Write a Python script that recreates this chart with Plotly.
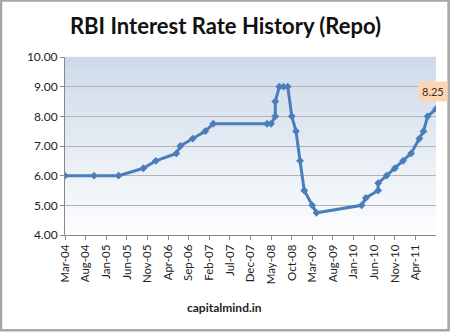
import plotly.graph_objects as go

# RBI repo rate by month of change
dates = [
    "2004-03-01", "2004-10-01", "2005-04-01", "2005-10-01", "2006-01-01",
    "2006-06-01", "2006-07-01", "2006-10-01", "2007-01-01", "2007-03-01",
    "2008-04-01", "2008-05-01", "2008-06-01", "2008-06-01", "2008-07-01",
    "2008-08-01", "2008-09-01", "2008-10-01", "2008-11-01", "2008-12-01",
    "2009-01-01", "2009-03-01", "2009-04-01", "2010-03-01", "2010-04-01",
    "2010-07-01", "2010-07-01", "2010-09-01", "2010-11-01", "2011-01-01",
    "2011-03-01", "2011-05-01", "2011-06-01", "2011-07-01", "2011-09-01",
]
repo_rate = [
    6.00, 6.00, 6.00, 6.25, 6.50,
    6.75, 7.00, 7.25, 7.50, 7.75,
    7.75, 7.75, 8.00, 8.50, 9.00,
    9.00, 9.00, 8.00, 7.50, 6.50,
    5.50, 5.00, 4.75, 5.00, 5.25,
    5.50, 5.75, 6.00, 6.25, 6.50,
    6.75, 7.25, 7.50, 8.00, 8.25,
]
# x-axis ticks every five months
tick_dates = [
    "2004-03-01", "2004-08-01", "2005-01-01", "2005-06-01", "2005-11-01",
    "2006-04-01", "2006-09-01", "2007-02-01", "2007-07-01", "2007-12-01",
    "2008-05-01", "2008-10-01", "2009-03-01", "2009-08-01", "2010-01-01",
    "2010-06-01", "2010-11-01", "2011-04-01",
]
tick_labels = [
    "Mar-04", "Aug-04", "Jan-05", "Jun-05", "Nov-05",
    "Apr-06", "Sep-06", "Feb-07", "Jul-07", "Dec-07",
    "May-08", "Oct-08", "Mar-09", "Aug-09", "Jan-10",
    "Jun-10", "Nov-10", "Apr-11",
]
y_range = [4, 10]
title_text = "RBI Interest Rate History (Repo)"
source_text = "capitalmind.in"

FONT = "Lato"
LINE_BLUE = "#4a7ebb"

fig = go.Figure()
fig.add_trace(go.Scatter(
    x=dates, y=repo_rate, mode="lines+markers",
    line=dict(color=LINE_BLUE, width=3),
    marker=dict(symbol="diamond", size=6, color=LINE_BLUE),
    showlegend=False, hoverinfo="x+y",
))

# vertical gradient behind the plot area
top_rgb = (0xcd, 0xd9, 0xe9)
bot_rgb = (0xfc, 0xfd, 0xfe)
n_bands = 60
shapes = []
for i in range(n_bands):
    t = i / (n_bands - 1)
    c = tuple(round(b + (a - b) * t) for a, b in zip(top_rgb, bot_rgb))
    shapes.append(dict(
        type="rect", xref="x domain", yref="y domain",
        x0=0, x1=1, y0=i / n_bands, y1=(i + 1) / n_bands + 0.002,
        fillcolor="rgb(%d,%d,%d)" % c, line=dict(width=0), layer="below",
    ))
# outer frame of the chart
shapes.append(dict(
    type="rect", xref="paper", yref="paper",
    x0=-0.1725, x1=1.034, y0=-0.535, y1=1.317,
    line=dict(color="#a6a6a6", width=2.5), fillcolor="rgba(0,0,0,0)",
    layer="above",
))

fig.update_layout(
    width=451, height=333,
    margin=dict(l=65, r=15, t=57, b=98),
    paper_bgcolor="white", plot_bgcolor="white",
    font=dict(family=FONT, color="#222"),
    title=dict(
        text="<b>%s</b>" % title_text, x=0.5, xanchor="center",
        xref="container", y=1 - 26 / 333, yref="container", yanchor="middle",
        font=dict(family=FONT, size=22, color="#111"),
    ),
    shapes=shapes,
    annotations=[
        dict(
            x=dates[-1], y=repo_rate[-1], xref="x", yref="y",
            text="%.2f" % repo_rate[-1], showarrow=False,
            xanchor="center", yanchor="bottom", xshift=-3, yshift=7,
            bgcolor="#fcd5b4", borderpad=3,
            font=dict(family=FONT, size=11, color="#333"),
        ),
        dict(
            x=0.431, y=-0.405, xref="paper", yref="paper",
            text="<b>%s</b>" % source_text, showarrow=False,
            xanchor="center", yanchor="middle",
            font=dict(family=FONT, size=12, color="#222"),
        ),
    ],
)
fig.update_xaxes(
    type="date", range=["2004-03-01", "2011-09-01"],
    tickvals=tick_dates, ticktext=tick_labels, tickangle=-90,
    ticks="outside", ticklen=4, tickcolor="#888", showgrid=False,
    showline=True, linecolor="#888", linewidth=1,
    tickfont=dict(family=FONT, size=11.5, color="#222"), zeroline=False,
)
fig.update_yaxes(
    range=y_range, dtick=1, tickformat=".2f",
    ticks="outside", ticklen=4, tickcolor="#888",
    showgrid=True, gridcolor="#b4b4b4", gridwidth=1,
    showline=True, linecolor="#888", linewidth=1,
    tickfont=dict(family=FONT, size=12, color="#222"), zeroline=False,
)

fig.write_html("out.html")
